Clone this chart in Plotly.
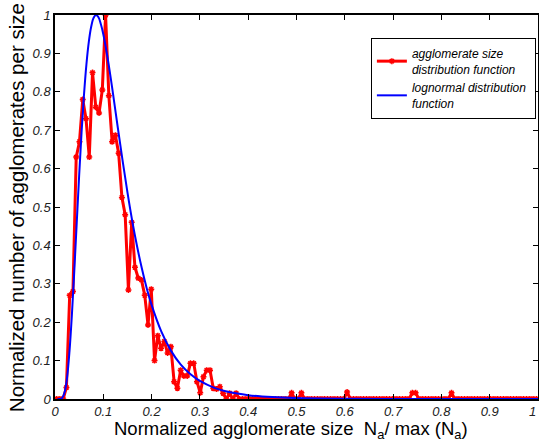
import plotly.graph_objects as go

# ---- data -------------------------------------------------------------
n_bins = 148
size_x = [(i + 0.5) / n_bins for i in range(n_bins)]

agglomerate_y = [
    0, 0, 0, 0.03, 0.27, 0.28, 0.63, 0.67, 0.78, 0.73,
    0.63, 0.85, 0.76, 0.745, 0.805, 1.0, 0.79, 0.67, 0.687, 0.64,
    0.525, 0.48, 0.284, 0.46, 0.343, 0.315, 0.31, 0.27, 0.193, 0.286,
    0.10, 0.165, 0.132, 0.15, 0.12, 0.136, 0.045, 0.028, 0.075, 0.06,
    0.06, 0.093, 0.093, 0.045, 0.016, 0.058, 0.075, 0.075, 0.028, 0.026,
    0.032, 0.015, 0, 0.015, 0, 0.015, 0, 0, 0, 0,
    0, 0, 0, 0, 0, 0, 0, 0, 0, 0,
    0, 0, 0.016, 0, 0, 0.016, 0, 0, 0, 0,
    0, 0, 0, 0, 0, 0, 0, 0, 0, 0.018,
    0, 0, 0, 0, 0, 0, 0, 0, 0, 0,
    0, 0, 0, 0, 0, 0, 0, 0, 0, 0.016,
    0.016, 0, 0, 0, 0, 0, 0, 0, 0, 0,
    0, 0.016, 0, 0, 0, 0, 0, 0, 0, 0,
    0, 0, 0, 0, 0, 0, 0, 0, 0, 0,
    0, 0, 0, 0, 0, 0, 0, 0,
]

lognormal_x = [0.005, 0.01, 0.015, 0.02, 0.025, 0.03, 0.035, 0.04, 0.045, 0.05,
               0.055, 0.06, 0.065, 0.07, 0.075, 0.08, 0.085, 0.09, 0.095, 0.10,
               0.11, 0.12, 0.13, 0.14, 0.15, 0.16, 0.17, 0.18, 0.19, 0.20,
               0.22, 0.24, 0.26, 0.28, 0.30, 0.33, 0.36, 0.40, 0.45, 0.50,
               0.60, 0.70, 0.80, 0.90, 1.0]
lognormal_y = [0.0, 0.0001, 0.003, 0.018, 0.056, 0.124, 0.220, 0.335, 0.459, 0.582,
               0.695, 0.792, 0.871, 0.930, 0.970, 0.993, 1.0, 0.994, 0.976, 0.950,
               0.880, 0.796, 0.707, 0.620, 0.538, 0.463, 0.397, 0.339, 0.288, 0.245,
               0.176, 0.126, 0.090, 0.065, 0.047, 0.029, 0.018, 0.010, 0.005, 0.0024,
               0.0007, 0.0002, 0.0001, 0.0, 0.0]

x_ticks = [0, 0.1, 0.2, 0.3, 0.4, 0.5, 0.6, 0.7, 0.8, 0.9, 1]
y_ticks = [0, 0.1, 0.2, 0.3, 0.4, 0.5, 0.6, 0.7, 0.8, 0.9, 1]

FONT = "Liberation Sans, Arial, sans-serif"
TICKFONT = dict(family=FONT, size=13, color="#222", style="italic")

fig = go.Figure()
fig.add_trace(go.Scatter(
    x=size_x, y=agglomerate_y, mode="lines+markers",
    name="agglomerate size<br>distribution function",
    line=dict(color="#ff0000", width=3),
    marker=dict(symbol="asterisk-open", size=5, color="#ff0000",
                line=dict(color="#ff0000", width=1.5)),
))
fig.add_trace(go.Scatter(
    x=lognormal_x, y=lognormal_y, mode="lines", line_shape="spline",
    name="lognormal distribution&nbsp;<br>function",
    line=dict(color="#0000ff", width=2),
))

axis_common = dict(
    showgrid=False, zeroline=False, showline=True, linecolor="black",
    linewidth=1.5, mirror="ticks", ticks="inside", ticklen=5,
    tickcolor="black", tickwidth=1, automargin=False,
    tickfont=TICKFONT,
)
fig.update_xaxes(range=[0, 1], tickvals=x_ticks[:-1],
                 ticktext=[f"{v:g}" for v in x_ticks[:-1]],
                 ticklabelstandoff=0, **axis_common)
fig.update_yaxes(range=[0, 1], tickvals=y_ticks, ticktext=[f"{v:g}" for v in y_ticks],
                 **axis_common)

fig.update_layout(
    width=539, height=445,
    margin=dict(l=55, r=1, t=15, b=46),
    paper_bgcolor="white", plot_bgcolor="white",
    font=dict(family=FONT, color="black"),
    showlegend=True,
    legend=dict(
        x=0.654, y=0.94, xanchor="left", yanchor="top",
        bgcolor="white", bordercolor="black", borderwidth=1,
        font=dict(family=FONT, size=12, color="black", style="italic"),
        tracegroupgap=2,
    ),
    annotations=[
        dict(text="Normalized agglomerate size  N<sub>a</sub>/ max (N<sub>a</sub>)",
             xref="paper", yref="paper", x=0.4896, y=-0.08,
             xanchor="center", yanchor="middle", showarrow=False,
             font=dict(family=FONT, size=18.5, color="black")),
        dict(text="Normalized number of agglomerates per size",
             xref="paper", yref="paper", x=(16 - 55) / 483, y=0.497,
             xanchor="center", yanchor="middle", showarrow=False, textangle=-90,
             font=dict(family=FONT, size=20.5, color="black")),
        dict(text="1", xref="x", yref="paper", x=x_ticks[-1], y=0,
             xanchor="right", yanchor="top", yshift=-3, showarrow=False,
             font=TICKFONT),
    ],
)

fig.write_html(
    "out.html",
    config={"displayModeBar": False},
    post_script="document.body.style.margin='0';document.body.style.padding='0';",
)
